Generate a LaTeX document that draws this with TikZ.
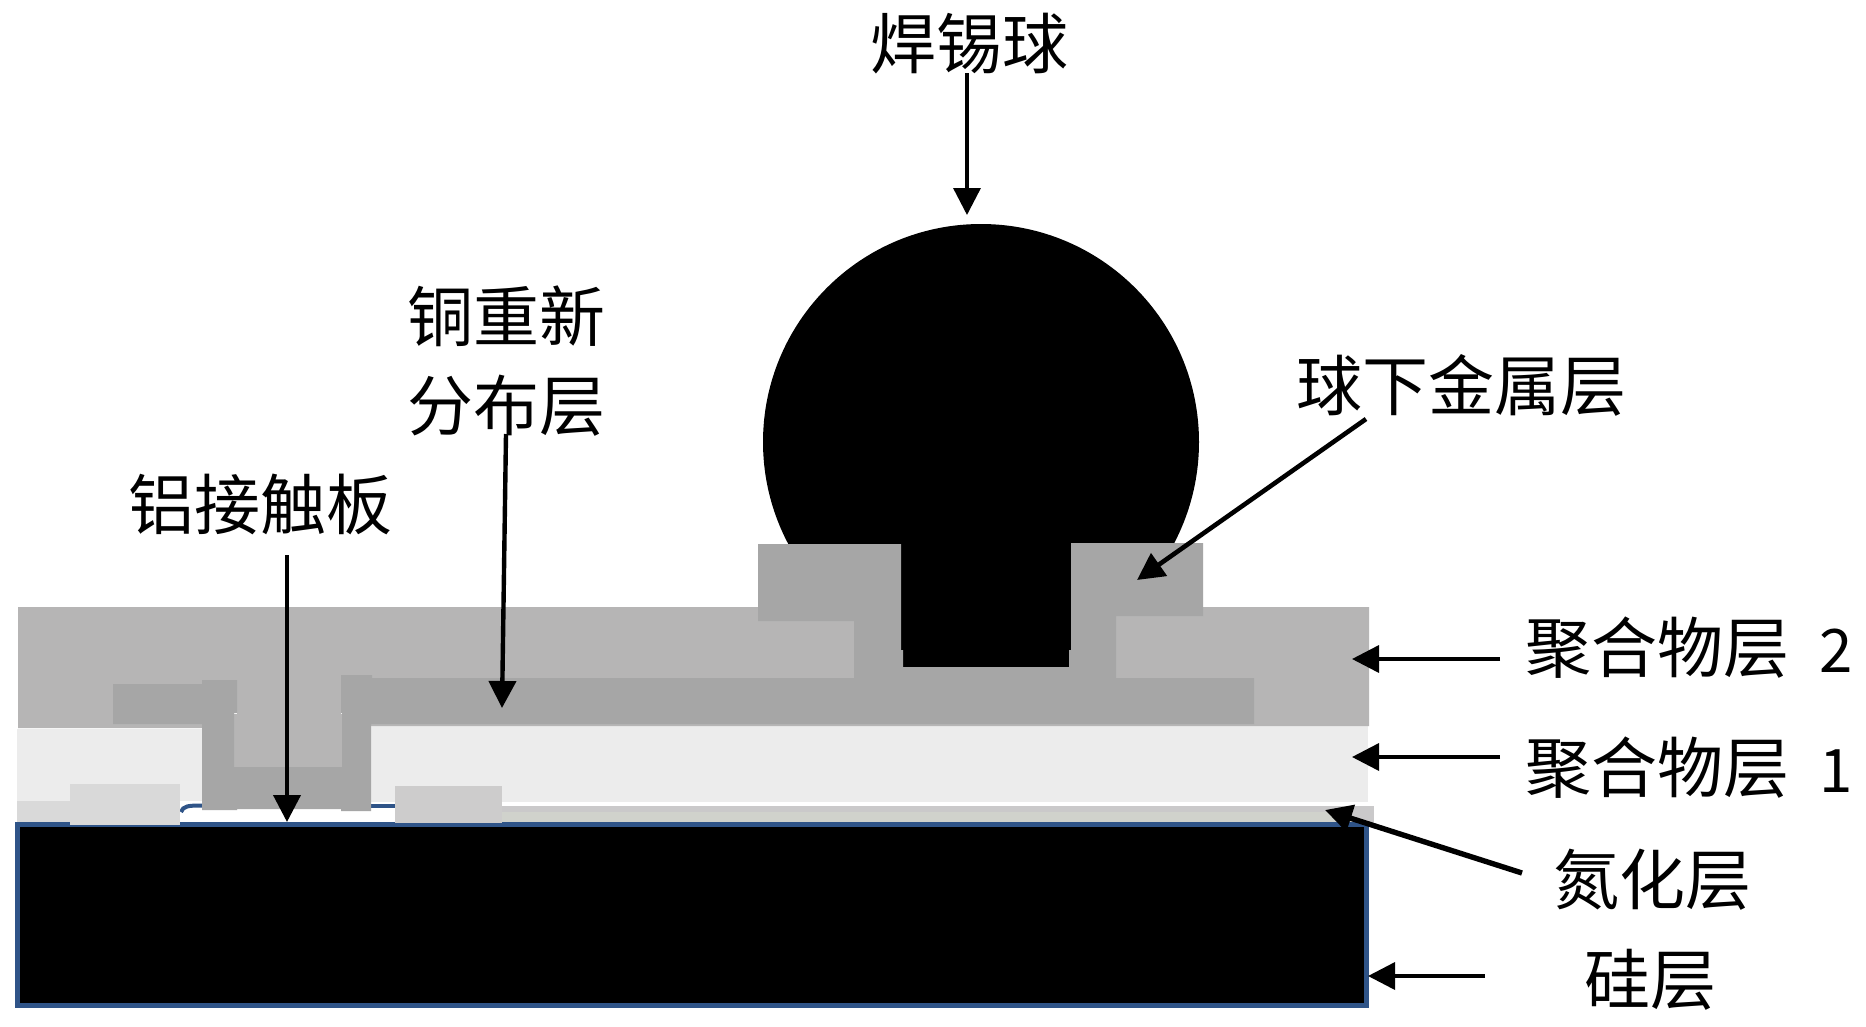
\documentclass[tikz,border=0pt]{standalone}
\usepackage{fontspec}
\usetikzlibrary{arrows.meta}
\newfontfamily\cjkfont{Noto Sans CJK SC}
\definecolor{polytwo}{HTML}{B6B5B5}
\definecolor{polyone}{HTML}{ECECEC}
\definecolor{rdlgrey}{HTML}{A6A6A6}
\definecolor{padleft}{HTML}{D9D9D9}
\definecolor{padright}{HTML}{CDCCCC}
\definecolor{nitrtop}{HTML}{CAC9CA}
\definecolor{nitrlow}{HTML}{D0D2CC}
\definecolor{siblue}{HTML}{2F5488}
\newcommand{\digitsize}{\fontsize{60}{60}\selectfont}
\tikzset{
  x=1pt,y=-1pt,
  lbl/.style={inner sep=0pt,outer sep=0pt,font=\cjkfont\fontsize{66}{66}\selectfont,text=black},
  pointer/.style={draw=black,-{Triangle[length=27pt,width=27pt]},line cap=butt}
}
\begin{document}
\begin{tikzpicture}
\useasboundingbox (0,0) rectangle (1866,1026);
\fill[white] (0,0) rectangle (1866,1026);
% nitride
\fill[padleft] (17,801) rectangle (72,822);
\fill[nitrtop] (500,806) rectangle (1374,812);
\fill[nitrlow] (500,812) rectangle (1374,822);
\fill[nitrtop] (1340,806) rectangle (1374,827);
% silicon
\draw[siblue,line width=4.6pt,fill=black] (17.3,824.3) rectangle (1366.7,1005.7);
% contact blue line
\draw[siblue,line width=4pt] (181,812) .. controls (183,806) and (188,805.5) .. (202,805.5);
\draw[siblue,line width=4pt] (371,805.5) -- (396,805.5);
% polymer 1
\fill[polyone] (17,729) rectangle (202,801);
\fill[polyone] (370,726) rectangle (1368,802);
% pads
\fill[padleft] (70,784) rectangle (180,825);
\fill[padright] (395,786) rectangle (502,823);
% polymer 2
\fill[polytwo] (18,607) -- (1369,607) -- (1369,726) -- (370,726) -- (370,680) -- (202,680) -- (202,728) -- (18,728) -- cycle;
\fill[polytwo] (237,680) rectangle (341,714);
\fill[polytwo] (234,714) rectangle (342,767);
% copper redistribution
\fill[rdlgrey] (113,684) -- (202,684) -- (202,680) -- (237,680) -- (237,713) -- (234,713) -- (234,767)
  -- (342,767) -- (342,713) -- (341,713) -- (341,675) -- (372,675) -- (372,678) -- (1254,678)
  -- (1254,724) -- (371,724) -- (371,811) -- (341,811) -- (341,809) -- (237,809) -- (237,810)
  -- (202,810) -- (202,724) -- (113,724) -- cycle;
% solder ball and neck
\fill[black] (981,442) circle (218);
\fill[black] (895,540) rectangle (1075,667);
% under-bump metal
\fill[rdlgrey] (758,544) -- (901,544) -- (901,650) -- (903,650) -- (903,667) -- (1069,667) -- (1069,650)
  -- (1071,650) -- (1071,543) -- (1203,543) -- (1203,616) -- (1116,616) -- (1116,678)
  -- (854,678) -- (854,621) -- (758,621) -- cycle;
% labels
\node[lbl] (ball) at (969,44) {焊锡球};
\node[lbl] (cua) at (506,316) {铜重新};
\node[lbl] (cub) at (506,406) {分布层};
\node[lbl] (alpad) at (260,504) {铝接触板};
\node[lbl] (ubm) at (1461,385) {球下金属层};
\node[lbl,anchor=west] (ptwo) at (1525,648) {聚合物层 \hspace{16pt}{\digitsize 2}};
\node[lbl,anchor=west] (pone) at (1525,768) {聚合物层 \hspace{16pt}{\digitsize 1}};
\node[lbl] (nitr) at (1652,880) {氮化层};
\node[lbl] (si) at (1650,980) {硅层};
% arrow ends
\coordinate (ballt) at (967,73);    \coordinate (ballh) at (967,215);
\coordinate (cut) at (506,434);     \coordinate (cuh) at (502,708);
\coordinate (alt) at (287,555);     \coordinate (alh) at (287,822);
\coordinate (ubmt) at (1366,419);   \coordinate (ubmh) at (1137,580);
\coordinate (ptwot) at (1500,659);  \coordinate (ptwoh) at (1352,659);
\coordinate (ponet) at (1500,757);  \coordinate (poneh) at (1352,757);
\coordinate (nitrt) at (1522,873);  \coordinate (nitrh) at (1325,810);
\coordinate (sit) at (1485,976);    \coordinate (sih) at (1368,976);
% arrows
\draw[pointer,line width=3.4pt] (ballt) -- (ballh);
\draw[pointer,line width=4.4pt] (cut) -- (cuh);
\draw[pointer,line width=4pt] (alt) -- (alh);
\draw[pointer,line width=4.6pt] (ubmt) -- (ubmh);
\draw[pointer,line width=3.6pt] (ptwot) -- (ptwoh);
\draw[pointer,line width=3.6pt] (ponet) -- (poneh);
\draw[pointer,line width=5.4pt] (nitrt) -- (nitrh);
\draw[pointer,line width=3.6pt] (sit) -- (sih);
\end{tikzpicture}
\end{document}
